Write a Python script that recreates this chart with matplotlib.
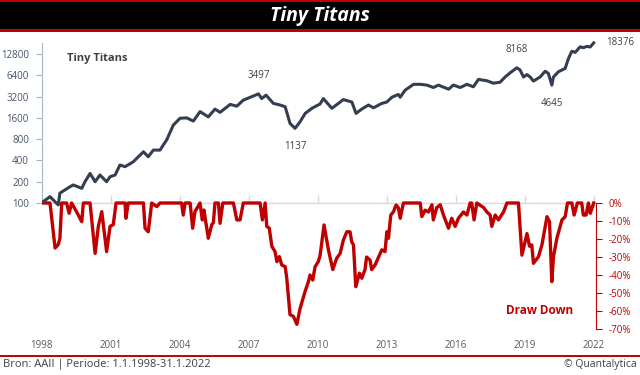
import matplotlib
matplotlib.use("Agg")
import matplotlib.pyplot as plt
from matplotlib.patches import Rectangle
from matplotlib.lines import Line2D

# ---------------- data ----------------
price_years = [1998.0, 1998.37, 1998.59, 1998.73, 1998.80, 1999.02, 1999.24, 1999.38, 1999.75, 1999.89,
               2000.11, 2000.33, 2000.54, 2000.83, 2000.98, 2001.20, 2001.41, 2001.63, 2001.99, 2002.43,
               2002.64, 2002.86, 2003.15, 2003.44, 2003.73, 2004.02, 2004.31, 2004.60, 2004.89, 2005.25,
               2005.54, 2005.76, 2006.20, 2006.49, 2006.77, 2007.21, 2007.43, 2007.57, 2007.76, 2008.08,
               2008.37, 2008.59, 2008.80, 2009.02, 2009.24, 2009.46, 2009.75, 2010.11, 2010.25, 2010.62,
               2011.12, 2011.49, 2011.67, 2011.92, 2012.21, 2012.43, 2012.79, 2013.01, 2013.23, 2013.51,
               2013.59, 2013.80, 2014.17, 2014.46, 2014.75, 2015.03, 2015.25, 2015.69, 2015.90, 2016.20,
               2016.49, 2016.77, 2016.99, 2017.36, 2017.64, 2017.93, 2018.15, 2018.37, 2018.66, 2018.80,
               2018.95, 2019.10, 2019.24, 2019.38, 2019.67, 2019.89, 2020.03, 2020.18, 2020.25, 2020.47,
               2020.76, 2020.90, 2021.05, 2021.20, 2021.41, 2021.55, 2021.70, 2021.85, 2022.0]
price_values = [100, 123, 104, 94, 138, 153, 170, 180, 161, 200,
                262, 200, 249, 200, 235, 249, 345, 326, 383, 530,
                451, 560, 560, 780, 1265, 1580, 1600, 1440, 1960, 1650,
                2130, 1915, 2480, 2340, 2850, 3260, 3497, 3000, 3350, 2560,
                2430, 2300, 1340, 1137, 1410, 1850, 2180, 2520, 3000, 2180,
                2900, 2680, 1850, 2130, 2430, 2220, 2560, 2680, 3130, 3430,
                3130, 3930, 4770, 4770, 4650, 4300, 4650, 4070, 4650, 4300,
                4770, 4400, 5600, 5350, 4950, 5100, 6050, 6950, 8168, 7600,
                6050, 6550, 6050, 5300, 6050, 7300, 6800, 4645, 6050, 7200,
                8000, 11000, 14000, 13500, 16200, 15700, 16400, 16100, 18376]

dd_years = [1998.0, 1998.37, 1998.59, 1998.73, 1998.80, 1998.88, 1999.09, 1999.20, 1999.31, 1999.53,
            1999.75, 1999.82, 2000.11, 2000.33, 2000.47, 2000.62, 2000.83, 2000.98, 2001.12, 2001.24,
            2001.63, 2001.67, 2001.77, 2002.43, 2002.50, 2002.64, 2002.79, 2003.01, 2003.15, 2004.09,
            2004.16, 2004.24, 2004.46, 2004.57, 2004.67, 2004.89, 2004.99, 2005.06, 2005.25, 2005.40,
            2005.47, 2005.54, 2005.69, 2005.76, 2005.88, 2006.34, 2006.49, 2006.63, 2006.77, 2007.50,
            2007.60, 2007.72, 2007.79, 2007.90, 2008.01, 2008.15, 2008.23, 2008.34, 2008.44, 2008.59,
            2008.66, 2008.80, 2008.95, 2009.10, 2009.24, 2009.46, 2009.60, 2009.67, 2009.79, 2009.89,
            2010.03, 2010.11, 2010.28, 2010.47, 2010.66, 2010.83, 2010.98, 2011.12, 2011.27, 2011.41,
            2011.48, 2011.56, 2011.66, 2011.82, 2011.92, 2012.06, 2012.13, 2012.28, 2012.35, 2012.50,
            2012.72, 2012.79, 2012.93, 2013.01, 2013.08, 2013.18, 2013.30, 2013.41, 2013.51, 2013.59,
            2013.73, 2014.46, 2014.53, 2014.67, 2014.82, 2014.97, 2015.03, 2015.18, 2015.33, 2015.47,
            2015.69, 2015.83, 2015.98, 2016.12, 2016.34, 2016.49, 2016.63, 2016.70, 2016.80, 2016.92,
            2017.21, 2017.36, 2017.50, 2017.57, 2017.72, 2017.86, 2018.08, 2018.23, 2018.73, 2018.88,
            2019.10, 2019.21, 2019.31, 2019.38, 2019.60, 2019.75, 2019.97, 2020.08, 2020.18, 2020.25,
            2020.40, 2020.62, 2020.76, 2020.86, 2021.05, 2021.15, 2021.29, 2021.48, 2021.55, 2021.67,
            2021.77, 2021.85, 2022.0]
dd_values = [0, 0, -25, -23, -19.6, 0, 0, -5.7, 0, -5,
             -10.4, 0, 0, -28, -13, -4.8, -27, -13, -12, 0,
             0, -8.5, 0, 0, -14, -16, 0, -2, 0, 0,
             -6.7, 0, 0, -14, -4.8, 0, -9.4, -3.9, -19.6, -12,
             -11, 0, 0, -11.3, 0, 0, -9.4, -9.4, 0, 0,
             -9.4, 0, -13, -14, -24, -27, -32.6, -29.8, -34.4, -35.4,
             -41.8, -62, -63, -67.4, -58.5, -49, -43.7, -40, -42.8, -35.4,
             -32.6, -29, -12.2, -26, -37, -30.7, -28, -20.6, -16, -16,
             -21.5, -23.3, -46.5, -39, -41.8, -37, -30, -31.7, -37, -34.4,
             -28, -26, -27, -16, -19.6, -6.7, -4.8, -1.1, -2.6, -8.5,
             0, 0, -7.6, -4, -5, -1, -9.4, -2.5, -1, -6.7,
             -14, -8.5, -13, -8.5, -5, -6.7, 0, 0, -9.4, 0,
             -2.5, -5, -6.7, -13, -6.7, -9.4, -5, 0, 0, -29,
             -17, -24, -23.3, -33.5, -29.8, -23.3, -7.6, -10.4, -43.7, -30,
             -19.6, -9.4, -7.6, 0, 0, -6.7, 0, 0, -6.7, -6.7,
             0, -5.7, 0]

price_ticks = [100, 200, 400, 800, 1600, 3200, 6400, 12800]
price_tick_labels = ["100", "200", "400", "800", "1600", "3200", "6400", "12800"]
dd_ticks = [0, -10, -20, -30, -40, -50, -60, -70]
dd_tick_labels = ["0%", "-10%", "-20%", "-30%", "-40%", "-50%", "-60%", "-70%"]
year_ticks = [1998, 2001, 2004, 2007, 2010, 2013, 2016, 2019, 2022]
year_tick_labels = [str(y) for y in year_ticks]

annotations = [(2007.43, 3497, "3497", "above"), (2009.02, 1137, "1137", "below"),
               (2018.66, 8168, "8168", "above"), (2020.18, 4645, "4645", "below"),
               (2022.0, 18376, "18376", "right")]

title = "Tiny Titans"
series_label = "Tiny Titans"
dd_label = "Draw Down"
footer_left = "Bron: AAII | Periode: 1.1.1998-31.1.2022"
footer_right = "\u00a9 Quantalytica"

# ---------------- styling ----------------
FONT = "Open Sans"
plt.rcParams['font.family'] = [FONT, 'DejaVu Sans']
RED = "#c00000"
LINE = "#333f50"
AXIS = "#a6b4c8"
TXT = "#404040"
W, H = 640, 375

fig = plt.figure(figsize=(W / 100, H / 100), dpi=100)
fig.patch.set_facecolor("white")

# title bar
fig.add_artist(Rectangle((0, 1 - 32 / H), 1, 32 / H, transform=fig.transFigure,
                         facecolor=RED, edgecolor="none"))
fig.add_artist(Rectangle((0, 1 - 29.2 / H), 1, 27.5 / H, transform=fig.transFigure,
                         facecolor="black", edgecolor="none"))
fig.text(0.5, 1 - 16 / H, title, ha="center", va="center", color="white",
         fontsize=14, fontweight="bold", fontstyle="italic")

# footer
fig.add_artist(Line2D([0, 1], [1 - 356 / H, 1 - 356 / H], transform=fig.transFigure,
                      color=RED, lw=1.4))
fig.text(3 / W, 1 - 365 / H, footer_left, ha="left", va="center", color=TXT, fontsize=8)
fig.text(637 / W, 1 - 365 / H, footer_right, ha="right", va="center", color=TXT, fontsize=7.5)

# axes
top_px, bot_px = 40, 332
left_px, right_px = 41.5, 596
ax = fig.add_axes([left_px / W, 1 - bot_px / H, (right_px - left_px) / W, (bot_px - top_px) / H])
ax.patch.set_alpha(0)
ax2 = ax.twinx()

px_per_oct = 149 / 7.0
zero_px = 203
ax.set_yscale("log", base=2)
ax.set_ylim(100 / 2 ** ((bot_px - zero_px) / px_per_oct), 100 * 2 ** ((zero_px - top_px) / px_per_oct))
px_per_pct = 126 / 70.0
ax2.set_ylim(-(bot_px - zero_px) / px_per_pct, (zero_px - top_px) / px_per_pct)
ax.set_xlim(1998.0, 2022.1)

# baseline + x ticks (upward)
ax2.axhline(0, color="#d9d9d9", lw=1.0, zorder=1)
ax2.vlines(year_ticks, 0, 4.3, color="#d9d9d9", lw=1.0, zorder=1)

ax2.plot(dd_years, dd_values, color=RED, lw=2.4, zorder=3, solid_joinstyle="round")
ax.plot(price_years, price_values, color=LINE, lw=2.2, zorder=4, solid_joinstyle="round")
ax.set_zorder(ax2.get_zorder() + 1)

for s in ["top", "bottom"]:
    ax.spines[s].set_visible(False)
    ax2.spines[s].set_visible(False)
ax.spines["right"].set_visible(False)
ax2.spines["left"].set_visible(False)
ax.spines["left"].set_color(AXIS)
ax.spines["left"].set_bounds(100, 100 * 2 ** ((zero_px - 43) / px_per_oct))
ax2.spines["right"].set_color(RED)
ax2.spines["right"].set_bounds(-70, 0)

ax.set_yticks(price_ticks)
ax.set_yticklabels(price_tick_labels)
ax.yaxis.set_minor_locator(matplotlib.ticker.NullLocator())
ax.tick_params(axis="y", which="major", length=4, color=AXIS, labelcolor="#44546a",
               labelsize=7, pad=5)
ax2.set_yticks(dd_ticks)
ax2.set_yticklabels(dd_tick_labels)
ax2.tick_params(axis="y", length=4, color=RED, labelcolor=RED, labelsize=7, pad=5)

ax.set_xticks(year_ticks)
ax.set_xticklabels(year_tick_labels)
ax.tick_params(axis="x", length=0, labelcolor="#595959", labelsize=7, pad=6)
ax2.tick_params(axis="x", length=0)

# annotations
for x, v, s, pos in annotations:
    if pos == "above":
        ax.annotate(s, (x, v), xytext=(0, 9), textcoords="offset points", ha="center",
                    va="bottom", fontsize=7, color=TXT)
    elif pos == "below":
        ax.annotate(s, (x, v), xytext=(0, -9), textcoords="offset points", ha="center",
                    va="top", fontsize=7, color=TXT)
    else:
        ax.annotate(s, (x, v), xytext=(9, 0), textcoords="offset points", ha="left",
                    va="center", fontsize=7, color=TXT)

fig.text(67 / W, 1 - 59 / H, series_label, ha="left", va="center", color=TXT,
         fontsize=8, fontweight="bold")
fig.text(506 / W, 1 - 310 / H, dd_label, ha="left", va="center", color=RED,
         fontsize=8.5, fontweight="bold")

fig.savefig("out.png", dpi=100, facecolor="white")
